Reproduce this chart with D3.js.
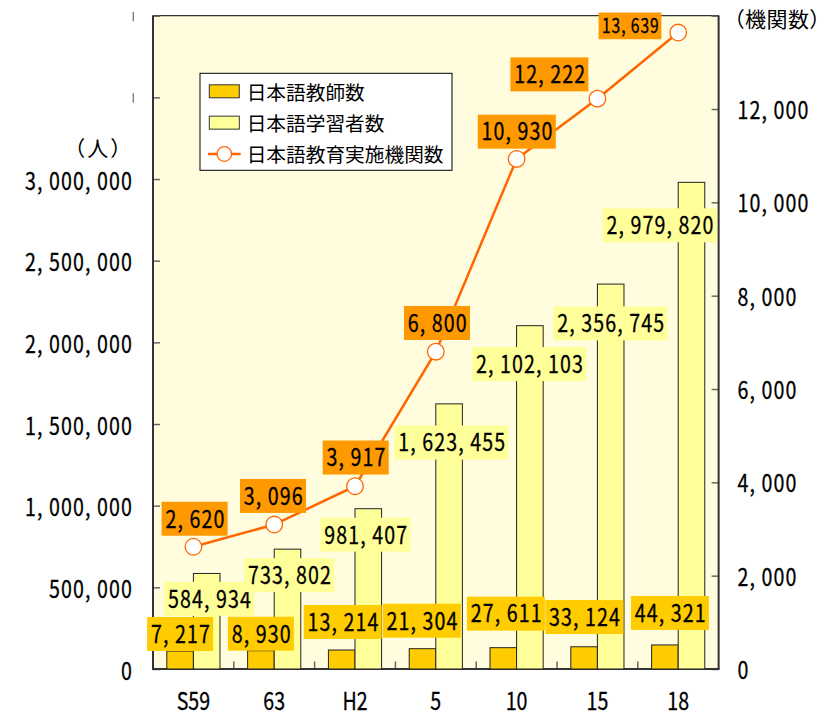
<!DOCTYPE html>
<html>
<head>
<meta charset="utf-8">
<script src="https://cdn.jsdelivr.net/npm/d3@7"></script>
<style>
	body { margin: 0; background: #fff; }
	svg { display: block; }
</style>
</head>
<body>
<div id="chart"></div>
<script>
///////////////////////////////////////////////////////////////////////////////
//// Data /////////////////////////////////////////////////////////////////////
///////////////////////////////////////////////////////////////////////////////
const years = ["S59", "63", "H2", "5", "10", "15", "18"];

const teachers = [7217, 8930, 13214, 21304, 27611, 33124, 44321];
const learners = [584934, 733802, 981407, 1623455, 2102103, 2356745, 2979820];
const institutions = [2620, 3096, 3917, 6800, 10930, 12222, 13639];

const leftTicks = [0, 500000, 1000000, 1500000, 2000000, 2500000, 3000000, 3500000, 4000000];
const rightTicks = [0, 2000, 4000, 6000, 8000, 10000, 12000, 14000];

const seriesNames = ["日本語教師数", "日本語学習者数", "日本語教育実施機関数"];

// label nudges as placed in the source: [dx, gap above anchor]
const teacherNudge = [[0, 0], [0, 0], [1, 11], [-0.7, 11], [2.6, 17], [0.2, 12.7], [5, 15]];
const learnerNudge = [[2.6, -8.4], [1.8, -9], [-2.9, -9], [2.3, -21.7], [-0.6, -21.4], [-0.3, -22.3], [-31.7, -26]];
const instNudge = [[1.2, 11], [-1.2, 11.6], [0.7, 11.7], [1.2, 11.7], [0.2, 10.3], [-48, 7.3], [-48.2, -6.7]];

///////////////////////////////////////////////////////////////////////////////
//// Set up ///////////////////////////////////////////////////////////////////
///////////////////////////////////////////////////////////////////////////////
const width = 837,
			height = 716;

const plot = { left: 153, right: 718.6, top: 15.7, bottom: 669 };

const numFont = "'Noto Sans CJK JP', sans-serif",
			jpFont = "'Noto Sans CJK JP', sans-serif";
const numSize = 24.5,
			sx = 0.8,   // narrow the glyphs like the gothic source font
			cell = 12;  // half-width cell

const colTeacher = "#FFCC00",
			colLearner = "#FFFF99",
			colInst = "#FF6600",
			colInstLabel = "#FF9900";

const x = d3.scaleBand()
		.domain(years)
		.range([plot.left, plot.right]);

const xSub = d3.scaleBand()
		.domain(["teachers", "learners"])
		.range([0, x.bandwidth()])
		.paddingOuter(0.52);

const yLeft = d3.scaleLinear()
		.domain([0, 4000000])
		.range([plot.bottom, plot.top]);

// teacher bars in the source sit on a raised floor
const teacherFloor = 103000;
const yTeacher = d3.scaleLinear()
		.domain([-teacherFloor, 4000000 - teacherFloor])
		.range([plot.bottom, plot.top]);

const yRight = d3.scaleLinear()
		.domain([0, 14000])
		.range([plot.bottom, plot.top]);

const fmt = d3.format(",");

// monospace character positions, in the narrowed text space
function mono(sel, str, x0, cw) {
	sel.attr("x", Array.from(str, (c, i) => ((x0 + i * cw) / sx).toFixed(2)).join(" "))
			.attr("transform", `scale(${sx},1)`)
			.attr("stroke", "#000")
			.attr("stroke-width", 0.3);
}

const svg = d3.select("#chart")
	.append("svg")
		.attr("width", width)
		.attr("height", height);

///////////////////////////////////////////////////////////////////////////////
//// Plot background and frame ////////////////////////////////////////////////
///////////////////////////////////////////////////////////////////////////////
svg.append("rect")
		.attr("x", plot.left)
		.attr("y", plot.top)
		.attr("width", plot.right - plot.left)
		.attr("height", plot.bottom - plot.top)
		.attr("fill", "#FFFDDD")
		.attr("stroke", "#000")
		.attr("stroke-width", 1);

///////////////////////////////////////////////////////////////////////////////
//// Axes /////////////////////////////////////////////////////////////////////
///////////////////////////////////////////////////////////////////////////////
function styleAxis(g, anchor, labelX, dy) {
	g.select(".domain").remove();
	g.selectAll(".tick line")
			.attr("stroke", "#666")
			.attr("stroke-width", 1.5);
	g.selectAll(".tick text")
			.attr("font-family", numFont)
			.attr("font-size", numSize)
			.attr("fill", "#000")
			.attr("text-anchor", "start")
			.attr("dy", null)
			.attr("y", dy)
			.each(function() {
				const s = this.textContent;
				const x0 = anchor === "end" ? labelX - s.length * cell : labelX;
				mono(d3.select(this), s, x0, cell);
			});
}

svg.append("g")
		.attr("transform", `translate(${plot.left},0)`)
		.call(d3.axisLeft(yLeft)
				.tickValues(leftTicks)
				.tickSize(-7)
				.tickFormat(d => d <= 3000000 ? fmt(d) : ""))
		.call(g => styleAxis(g, "end", -20, 10));

// clipped remains of the top two left labels
svg.append("g")
	.selectAll("line")
	.data(leftTicks.filter(d => d > 3000000))
	.enter()
	.append("line")
		.attr("x1", 133.3)
		.attr("x2", 133.3)
		.attr("y1", d => yLeft(d) - 4)
		.attr("y2", d => yLeft(d) + 5.5)
		.attr("stroke", "#777")
		.attr("stroke-width", 1.3);

svg.append("g")
		.attr("transform", `translate(${plot.right},0)`)
		.call(d3.axisRight(yRight)
				.tickValues(rightTicks)
				.tickSize(-7)
				.tickFormat(d => d < 14000 ? fmt(d) : ""))
		.call(g => styleAxis(g, "start", 19, 9.5));

// category labels, centred under each group
svg.append("g")
		.attr("transform", `translate(0,${plot.bottom})`)
		.call(d3.axisBottom(x).tickSize(0))
		.call(g => {
			g.select(".domain").remove();
			g.selectAll(".tick text")
					.attr("font-family", numFont)
					.attr("font-size", numSize)
					.attr("fill", "#000")
					.attr("stroke", "#000")
					.attr("stroke-width", 0.3)
					.attr("dy", null)
					.attr("y", 41.5)
					.attr("transform", `scale(${sx},1)`);
		});

// ticks between categories
svg.append("g")
	.selectAll("line")
	.data(years.slice(1))
	.enter()
	.append("line")
		.attr("x1", d => x(d))
		.attr("x2", d => x(d))
		.attr("y1", plot.bottom - 7.5)
		.attr("y2", plot.bottom)
		.attr("stroke", "#666")
		.attr("stroke-width", 1.5);

// axis lines
const axisLines = [
	[plot.left, plot.top, plot.left, plot.bottom],
	[plot.right, plot.top, plot.right, plot.bottom],
	[plot.left - 1, plot.bottom, plot.right + 1, plot.bottom]
];
svg.append("g")
	.selectAll("line")
	.data(axisLines)
	.enter()
	.append("line")
		.attr("x1", d => d[0])
		.attr("y1", d => d[1])
		.attr("x2", d => d[2])
		.attr("y2", d => d[3])
		.attr("stroke", "#333")
		.attr("stroke-width", 2);

// axis titles
svg.append("text")
		.attr("x", 64.3)
		.attr("y", 147)
		.attr("dominant-baseline", "central")
		.attr("font-family", jpFont)
		.attr("font-size", 21)
		.attr("letter-spacing", 2)
		.text("（人）");

svg.append("text")
		.attr("x", 723.7)
		.attr("y", 17.5)
		.attr("dominant-baseline", "central")
		.attr("font-family", jpFont)
		.attr("font-size", 21)
		.attr("letter-spacing", 0.4)
		.text("（機関数）");

///////////////////////////////////////////////////////////////////////////////
//// Bars /////////////////////////////////////////////////////////////////////
///////////////////////////////////////////////////////////////////////////////
svg.append("g")
	.selectAll("rect")
	.data(teachers)
	.enter()
	.append("rect")
		.attr("x", (d, i) => x(years[i]) + xSub("teachers"))
		.attr("y", d => yTeacher(d))
		.attr("width", xSub.bandwidth())
		.attr("height", d => plot.bottom - yTeacher(d))
		.attr("fill", colTeacher)
		.attr("stroke", "#222")
		.attr("stroke-width", 1);

svg.append("g")
	.selectAll("rect")
	.data(learners)
	.enter()
	.append("rect")
		.attr("x", (d, i) => x(years[i]) + xSub("learners"))
		.attr("y", d => yLeft(d))
		.attr("width", xSub.bandwidth())
		.attr("height", d => plot.bottom - yLeft(d))
		.attr("fill", colLearner)
		.attr("stroke", "#222")
		.attr("stroke-width", 1);

///////////////////////////////////////////////////////////////////////////////
//// Institutions line ////////////////////////////////////////////////////////
///////////////////////////////////////////////////////////////////////////////
const cx = i => x(years[i]) + x.bandwidth() / 2;

svg.append("path")
		.datum(institutions)
		.attr("fill", "none")
		.attr("stroke", colInst)
		.attr("stroke-width", 2.5)
		.attr("d", d3.line()
				.x((d, i) => cx(i))
				.y(d => yRight(d)));

svg.append("g")
	.selectAll("circle")
	.data(institutions)
	.enter()
	.append("circle")
		.attr("cx", (d, i) => cx(i))
		.attr("cy", d => yRight(d))
		.attr("r", 8.3)
		.attr("fill", "#fff")
		.attr("stroke", colInst)
		.attr("stroke-width", 1.3);

///////////////////////////////////////////////////////////////////////////////
//// Data labels //////////////////////////////////////////////////////////////
///////////////////////////////////////////////////////////////////////////////
// centre x, box bottom y
function dataLabel(g, str, mx, bottom, fill, small) {
	const fs = small ? 19.5 : numSize,
				cw = small ? 9.6 : cell,
				h = small ? 26.7 : 34,
				pad = small ? 2.6 : 3,
				w = str.length * cw + 2 * pad,
				left = mx - w / 2;
	g.append("rect")
			.attr("x", left)
			.attr("y", bottom - h)
			.attr("width", w)
			.attr("height", h)
			.attr("fill", fill);
	g.append("text")
			.attr("y", bottom - h / 2 + fs * 0.36)
			.attr("font-family", numFont)
			.attr("font-size", fs)
			.attr("fill", "#000")
			.text(str)
			.call(t => mono(t, str, left + pad + 0.8, cw));
}

const labelG = svg.append("g");

learners.forEach((d, i) => {
	const n = learnerNudge[i];
	// learner boxes hang from just under the bar top
	dataLabel(labelG, fmt(d),
		x(years[i]) + xSub("learners") + xSub.bandwidth() / 2 + n[0],
		yLeft(d) - n[1] + 34, colLearner);
});

teachers.forEach((d, i) => {
	const n = teacherNudge[i];
	dataLabel(labelG, fmt(d),
		x(years[i]) + xSub("teachers") + xSub.bandwidth() / 2 + n[0],
		yTeacher(d) - n[1], colTeacher);
});

institutions.forEach((d, i) => {
	const n = instNudge[i];
	dataLabel(labelG, fmt(d), cx(i) + n[0], yRight(d) - n[1], colInstLabel,
		i === institutions.length - 1);
});

///////////////////////////////////////////////////////////////////////////////
//// Legend ///////////////////////////////////////////////////////////////////
///////////////////////////////////////////////////////////////////////////////
const legend = svg.append("g")
		.attr("transform", "translate(200,73.3)");

legend.append("rect")
		.attr("width", 252)
		.attr("height", 97)
		.attr("fill", "#fff")
		.attr("stroke", "#000")
		.attr("stroke-width", 1);

const rowY = d3.scalePoint()
		.domain(seriesNames)
		.range([18, 80.7]);

[colTeacher, colLearner].forEach((c, i) => {
	legend.append("rect")
			.attr("x", 9.3)
			.attr("y", rowY(seriesNames[i]) - 6.5)
			.attr("width", 30)
			.attr("height", 13)
			.attr("fill", c)
			.attr("stroke", "#333")
			.attr("stroke-width", 1);
});

const lineRow = rowY(seriesNames[2]);
legend.append("line")
		.attr("x1", 8)
		.attr("x2", 40.7)
		.attr("y1", lineRow)
		.attr("y2", lineRow)
		.attr("stroke", colInst)
		.attr("stroke-width", 2.5);
legend.append("circle")
		.attr("cx", 24.3)
		.attr("cy", lineRow)
		.attr("r", 7.3)
		.attr("fill", "#fff")
		.attr("stroke", colInst)
		.attr("stroke-width", 1.3);

legend.selectAll(".legend-text")
	.data(seriesNames)
	.enter()
	.append("text")
		.attr("class", "legend-text")
		.attr("x", 46.7)
		.attr("y", d => rowY(d))
		.attr("dominant-baseline", "central")
		.attr("font-family", jpFont)
		.attr("font-size", 19.7)
		.attr("fill", "#000")
		.text(d => d);
</script>
</body>
</html>
